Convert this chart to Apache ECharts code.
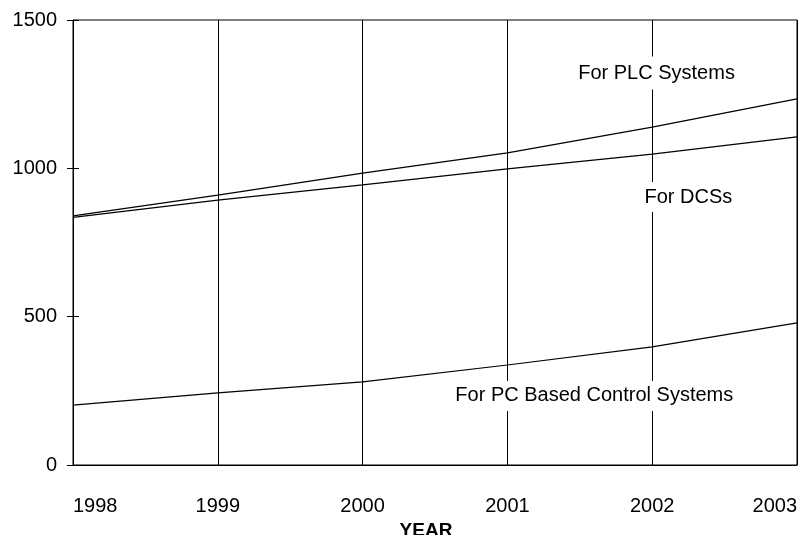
<!DOCTYPE html>
<html lang="en">
<head>
    <meta charset="utf-8">
    <title>Control systems market</title>
    <script src="https://cdn.jsdelivr.net/npm/echarts@6/dist/echarts.min.js"></script>
    <style>
        html, body { margin: 0; padding: 0; background: #fff; }
        #main { width: 803px; height: 535px; }
    </style>
</head>
<body>
<div id="main"></div>
<script type="text/javascript">
    // data
    var years = [1998, 1999, 2000, 2001, 2002, 2003];
    var plc = [840, 910, 984, 1052, 1139, 1234];
    var dcs = [835, 893, 944, 998, 1048, 1106];
    var pc = [202, 243, 280, 337, 398, 479];
    var yTicks = [0, 500, 1000, 1500];

    // label anchors in data units [year, value]
    var plcLabel = [2002.03, 1321];
    var dcsLabel = [2002.25, 903];
    var pcLabel = [2001.6, 233];

    var font = 'Liberation Sans, Arial, sans-serif';

    function pairs(vals) {
        var out = [];
        for (var i = 0; i < years.length; i++) {
            out.push([years[i], vals[i]]);
        }
        return out;
    }

    function tag(text, coord, pad) {
        return {
            symbol: 'circle',
            symbolSize: 1,
            itemStyle: { color: 'rgba(0,0,0,0)' },
            data: [{ coord: coord }],
            label: {
                show: true,
                position: 'inside',
                formatter: text,
                color: '#000',
                fontFamily: font,
                fontSize: 20,
                backgroundColor: '#fff',
                padding: pad
            }
        };
    }

    function line(name, vals, mark) {
        return {
            name: name,
            type: 'line',
            data: pairs(vals),
            symbol: 'none',
            silent: true,
            lineStyle: { color: '#000', width: 1.2 },
            markPoint: mark
        };
    }

    var myChart = echarts.init(document.getElementById('main'));
    myChart.setOption({
        animation: false,
        grid: {
            left: 73, right: 6, top: 20, bottom: 70,
            outerBoundsMode: 'none',
            show: true, borderColor: '#000', borderWidth: 1
        },
        xAxis: {
            type: 'value',
            min: years[0],
            max: years[years.length - 1],
            interval: 1,
            name: 'YEAR',
            nameLocation: 'middle',
            nameGap: 49,
            nameTextStyle: {
                color: '#000', fontFamily: font, fontSize: 19, fontWeight: 'bold',
                padding: [0, 18, 0, 0]
            },
            axisLine: { lineStyle: { color: '#000', width: 1 } },
            axisTick: { show: false },
            splitLine: { show: true, lineStyle: { color: '#000', width: 1 } },
            axisLabel: {
                color: '#000',
                fontFamily: font,
                fontSize: 20,
                margin: 31,
                alignMinLabel: 'left',
                alignMaxLabel: 'right',
                formatter: function (v) { return String(v); }
            }
        },
        yAxis: [{
            type: 'value',
            position: 'left',
            min: yTicks[0],
            max: yTicks[yTicks.length - 1],
            interval: 500,
            axisLine: { show: true, lineStyle: { color: '#000', width: 1 } },
            axisTick: { show: true, length: 6, lineStyle: { color: '#000' } },
            splitLine: { show: false },
            axisLabel: {
                color: '#000', fontFamily: font, fontSize: 20, margin: 16,
                formatter: function (v) { return String(v); }
            }
        }, {
            type: 'value',
            position: 'left',
            min: yTicks[0],
            max: yTicks[yTicks.length - 1],
            interval: 500,
            axisLine: { show: false },
            axisTick: { show: true, inside: true, length: 6, lineStyle: { color: '#000' } },
            splitLine: { show: false },
            axisLabel: { show: false }
        }],
        series: [
            line('For PLC Systems', plc, tag('For PLC Systems', plcLabel, [7, 3, 6, 3])),
            line('For DCSs', dcs, tag('For DCSs', dcsLabel, [5, 3, 5, 3])),
            line('For PC Based Control Systems', pc, tag('For PC Based Control Systems', pcLabel, [5, 3, 5, 3]))
        ]
    });
</script>
</body>
</html>
